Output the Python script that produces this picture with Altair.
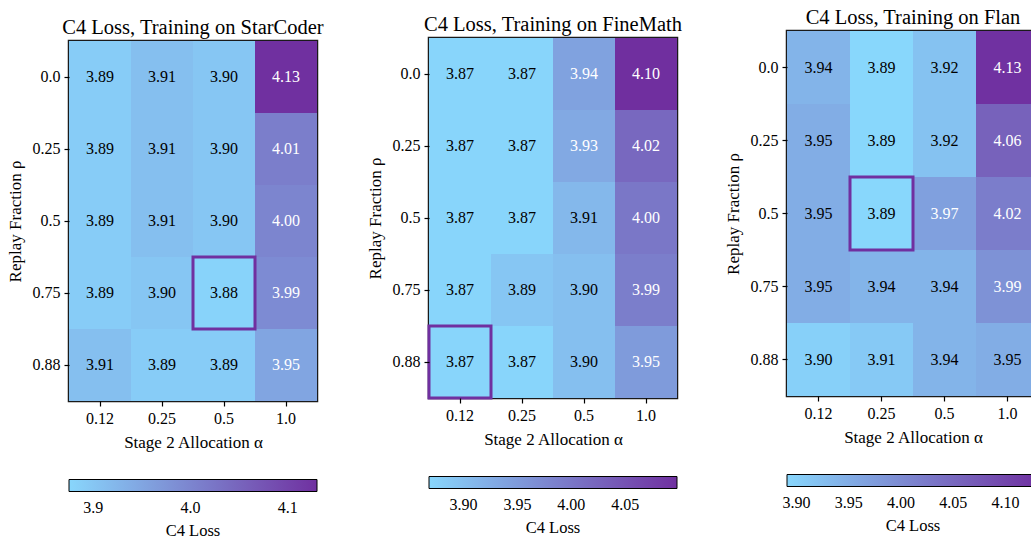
import altair as alt
import pandas as pd

FONT = "Liberation Serif"
LIGHT = "#88D6FC"
PURPLE = "#7030A0"

alphas = ["0.12", "0.25", "0.5", "1.0"]
rhos = ["0.0", "0.25", "0.5", "0.75", "0.88"]

titles = [
    "C4 Loss, Training on StarCoder",
    "C4 Loss, Training on FineMath",
    "C4 Loss, Training on Flan",
]

starcoder = [
    [3.89, 3.91, 3.90, 4.13],
    [3.89, 3.91, 3.90, 4.01],
    [3.89, 3.91, 3.90, 4.00],
    [3.89, 3.90, 3.88, 3.99],
    [3.91, 3.89, 3.89, 3.95],
]
finemath = [
    [3.87, 3.87, 3.94, 4.10],
    [3.87, 3.87, 3.93, 4.02],
    [3.87, 3.87, 3.91, 4.00],
    [3.87, 3.89, 3.90, 3.99],
    [3.87, 3.87, 3.90, 3.95],
]
flan = [
    [3.94, 3.89, 3.92, 4.13],
    [3.95, 3.89, 3.92, 4.06],
    [3.95, 3.89, 3.97, 4.02],
    [3.95, 3.94, 3.94, 3.99],
    [3.90, 3.91, 3.94, 3.95],
]
grids = [starcoder, finemath, flan]

# best cell per panel: (rho, alpha)
best_rho = ["0.75", "0.88", "0.5"]
best_alpha = ["0.5", "0.12", "0.25"]

# colour-bar extents and tick labels
cbar_domains = [[3.875, 4.130], [3.868, 4.098], [3.891, 4.132]]
cbar_ticks = [
    [3.9, 4.0, 4.1],
    [3.90, 3.95, 4.00, 4.05],
    [3.90, 3.95, 4.00, 4.05, 4.10],
]
cbar_formats = [".1f", ".2f", ".2f"]

# layout (pixels)
widths = [248, 248, 252]
heights = [360, 360, 365]
spacers = [11, 8, 1]
spacer_extra_w = [0, 0, 0]


def panel(i):
    rows = []
    for r, rho in enumerate(rhos):
        for c, a in enumerate(alphas):
            rows.append({"rho": rho, "alpha": a, "loss": grids[i][r][c]})
    df = pd.DataFrame(rows)
    lo, hi = df["loss"].min(), df["loss"].max()
    df["light"] = [bool((v - lo) / (hi - lo) > 0.255) for v in df["loss"]]
    df["label"] = [f"{v:.2f}" for v in df["loss"]]

    x = alt.X(
        "alpha:N",
        sort=alphas,
        scale=alt.Scale(domain=alphas, paddingInner=0, paddingOuter=0),
        axis=alt.Axis(title="Stage 2 Allocation α", labelAngle=0),
    )
    y = alt.Y(
        "rho:N",
        sort=rhos,
        scale=alt.Scale(domain=rhos, paddingInner=0, paddingOuter=0),
        axis=alt.Axis(title="Replay Fraction ρ"),
    )
    base = alt.Chart(df)
    heat = base.mark_rect().encode(
        x=x,
        y=y,
        color=alt.Color(
            "loss:Q",
            scale=alt.Scale(domain=cbar_domains[i], range=[LIGHT, PURPLE], interpolate="rgb", zero=False, nice=False),
            legend=alt.Legend(
                orient="none",
                legendX=0,
                legendY=heights[i] + 78.5,
                direction="horizontal",
                gradientLength=widths[i],
                gradientThickness=12,
                gradientStrokeColor="black",
                gradientStrokeWidth=1,
                titleOrient="bottom",
                titleAnchor="middle",
                title="C4 Loss",
                values=cbar_ticks[i],
                format=cbar_formats[i],
                labelFont=FONT,
                labelFontSize=16,
                labelColor="black",
                labelOffset=8,
                labelOverlap=False,
                titleFont=FONT,
                titleFontSize=16.5,
                titleFontWeight="normal",
                titleColor="black",
                titlePadding=7,
                padding=0,
            ),
        ),
    )
    text_dark = base.transform_filter("!datum.light").mark_text(
        font=FONT, fontSize=16, color="black"
    ).encode(x=x, y=y, text="label:N")
    text_light = base.transform_filter("datum.light").mark_text(
        font=FONT, fontSize=16, color="white"
    ).encode(x=x, y=y, text="label:N")
    box_df = pd.DataFrame({"rho": [best_rho[i]], "alpha": [best_alpha[i]]})
    box = alt.Chart(box_df).mark_rect(filled=False, stroke=PURPLE, strokeWidth=3).encode(x=x, y=y)

    return alt.layer(heat, text_dark, text_light, box).properties(
        width=widths[i],
        height=heights[i],
        title=alt.TitleParams(titles[i], font=FONT, fontSize=20.5, fontWeight="normal", color="black", offset=3),
    )


def spacer(h, w):
    return (
        alt.Chart(pd.DataFrame({"z": [0]}))
        .mark_rule(opacity=0)
        .encode(x=alt.value(0), y=alt.value(0), y2=alt.value(0))
        .properties(width=w, height=h, view=alt.ViewBackground(stroke="transparent"))
    )


cols = [
    alt.vconcat(spacer(spacers[i], widths[i] + spacer_extra_w[i]), panel(i), spacing=0)
    .resolve_scale(color="independent")
    for i in range(3)
]

chart = (
    alt.hconcat(*cols, spacing=38)
    .resolve_scale(color="independent")
    .properties(padding={"left": 4, "top": 1, "right": -11, "bottom": 0}, background="white")
    .configure(font=FONT)
    .configure_view(stroke="#1a1a1a", strokeWidth=2.5)
    .configure_axis(
        labelFont=FONT,
        titleFont=FONT,
        labelFontSize=16,
        titleFontSize=17,
        titleFontWeight="normal",
        labelColor="black",
        titleColor="black",
        tickColor="black",
        tickSize=5,
        tickWidth=1.2,
        domain=False,
        grid=False,
        labelPadding=4,
        titlePadding=8,
    )
)

chart.save("out.html", embed_options={"renderer": "svg", "actions": False})
